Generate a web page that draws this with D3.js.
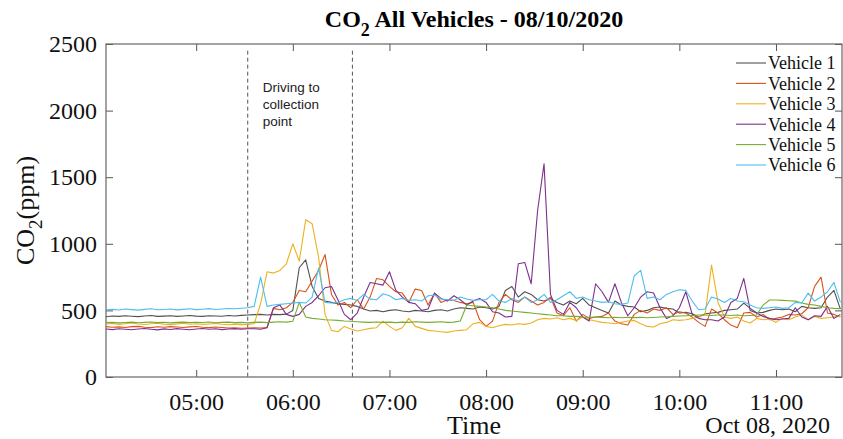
<!DOCTYPE html>
<html>
<head>
<meta charset="utf-8">
<script src="https://cdn.jsdelivr.net/npm/d3@7"></script>
<style>
  body { margin: 0; background: #fff; }
  svg { display: block; }
</style>
</head>
<body>
<script>
const margin = { top: 44, right: 1, bottom: 62, left: 106 };
const width = 843;
const height = 439;
const innerWidth = width - margin.left - margin.right;
const innerHeight = height - margin.top - margin.bottom;

const serifFont = "'Liberation Serif', 'Times New Roman', serif";
const sansFont = "'Liberation Sans', Arial, sans-serif";

// samples every 4 minutes starting at 04:04
const startTime = "04:04";
const endTime = "11:41";
const stepMinutes = 4;

const hourTicks = ["05:00", "06:00", "07:00", "08:00", "09:00", "10:00", "11:00"];
const yTicks = [0, 500, 1000, 1500, 2000, 2500];
const markerTimes = ["05:32", "06:37"];
const noteLines = ["Driving to", "collection", "point"];
const dateLabel = "Oct 08, 2020";

const vehicleNames = ["Vehicle 1", "Vehicle 2", "Vehicle 3", "Vehicle 4", "Vehicle 5", "Vehicle 6"];
const vehicleColors = ["#505050", "#D95319", "#EDB120", "#7E2F8E", "#77AC30", "#4DBEEE"];

const vehicle1 = [452,458,455,460,456,453,458,462,455,457,460,455,458,462,457,455,460,458,456,462,458,463,465,
  468,470,465,470,468,472,500,820,880,680,590,570,560,550,545,540,530,
  510,495,500,490,500,505,495,490,500,495,490,500,505,495,510,520,515,510,525,520,
  510,530,650,680,600,640,620,580,570,590,560,540,570,550,
  590,540,520,500,480,570,540,530,525,490,500,520,525,515,510,480,485,475,450,475,480,485,500,505,510,555,515,480,485,500,510,505,510,490,530,520,515,520,600,650,510];

const vehicle2 = [378,374,376,372,378,380,374,371,377,373,378,375,372,376,379,374,371,375,372,368,370,366,368,
  370,368,372,515,505,520,560,650,640,720,800,920,620,540,560,
  520,580,510,600,740,730,680,640,630,560,660,650,540,630,560,580,575,560,550,560,430,380,
  420,560,620,580,560,600,570,540,560,600,480,460,520,420,
  470,440,450,455,480,420,400,390,470,500,480,510,500,520,470,490,480,450,410,380,510,480,430,390,370,480,485,450,470,430,440,450,470,465,475,520,680,750,480,470,450];

const vehicle3 = [398,402,395,400,405,398,394,400,404,397,393,399,403,396,400,395,398,402,396,392,397,393,395,
  400,550,790,780,800,850,1000,870,1180,1150,900,470,350,340,380,
  360,345,355,365,370,420,380,350,370,440,380,365,350,345,340,335,345,350,355,400,410,380,
  370,385,395,390,400,395,405,430,440,435,445,430,440,425,
  450,430,420,410,405,400,410,420,425,400,380,375,400,410,430,425,430,440,450,470,840,560,450,440,450,420,405,440,430,435,410,440,430,450,465,430,455,440,445,450,455];

const vehicle4 = [360,356,362,358,355,360,364,358,354,361,357,363,359,355,360,364,358,362,356,360,363,359,362,
  362,358,370,520,540,470,455,470,530,560,610,670,680,580,470,
  430,480,600,710,700,690,790,650,600,560,550,500,510,630,590,570,610,580,540,570,590,560,
  490,480,450,455,850,860,700,1250,1600,620,500,470,560,520,
  450,420,700,640,560,700,560,460,520,600,640,630,520,440,460,520,640,470,440,430,430,420,450,560,590,740,500,480,455,440,430,435,440,520,450,430,460,455,530,440,470];

const vehicle5 = [408,410,406,409,412,407,410,413,408,411,406,410,412,408,411,409,413,407,410,412,408,410,406,
  410,412,408,412,415,412,418,560,450,440,435,430,428,425,420,
  418,415,412,410,413,410,412,408,412,410,415,412,410,412,415,410,412,420,540,535,530,525,
  520,510,500,495,490,485,480,475,470,465,460,460,455,455,
  450,448,450,448,445,448,445,448,446,448,445,447,450,452,455,458,460,462,465,465,462,465,465,462,465,460,462,465,540,578,578,575,572,570,555,545,540,530,520,515,512];

const vehicle6 = [505,508,503,510,506,502,508,512,505,507,510,504,508,512,506,509,513,507,510,514,512,516,520,
  530,750,530,540,545,550,555,560,555,600,820,560,555,560,580,
  590,575,620,585,580,625,610,580,590,575,580,570,610,615,585,580,575,600,585,575,580,580,
  620,570,560,590,570,600,560,580,620,560,580,610,640,590,
  600,580,570,560,565,550,545,555,760,800,590,600,580,620,640,655,650,570,505,510,600,585,560,590,570,565,540,520,515,520,525,515,520,560,555,630,570,600,640,710,560];

const vehicleValues = [vehicle1, vehicle2, vehicle3, vehicle4, vehicle5, vehicle6];

const parseTime = d3.timeParse("%H:%M");
const t0 = parseTime(startTime);

const xScale = d3.scaleTime()
  .domain([t0, parseTime(endTime)])
  .range([0, innerWidth]);
const yScale = d3.scaleLinear()
  .domain([0, 2500])
  .range([innerHeight, 0]);

const svg = d3.select("body").append("svg")
  .attr("width", width)
  .attr("height", height);

svg.append("defs").append("clipPath").attr("id", "plotClip")
  .append("rect").attr("width", innerWidth).attr("height", innerHeight);

const g = svg.append("g").attr("transform", `translate(${margin.left},${margin.top})`);

// axes, ticks inside
const tickValuesX = hourTicks.map(parseTime);
const axisColor = "#555";

const xAxis = g.append("g").attr("transform", `translate(0,${innerHeight})`)
  .call(d3.axisBottom(xScale).tickValues(tickValuesX).tickFormat(d3.timeFormat("%H:%M"))
    .tickSize(-7).tickPadding(16));
const xAxisTop = g.append("g")
  .call(d3.axisTop(xScale).tickValues(tickValuesX).tickFormat("").tickSize(-7));
const yAxis = g.append("g")
  .call(d3.axisLeft(yScale).tickValues(yTicks).tickFormat(d3.format("d")).tickSize(-7).tickPadding(9));
const yAxisRight = g.append("g").attr("transform", `translate(${innerWidth},0)`)
  .call(d3.axisRight(yScale).tickValues(yTicks).tickFormat("").tickSize(-7));

[xAxis, xAxisTop, yAxis, yAxisRight].forEach(a => {
  a.select(".domain").remove();
  a.selectAll(".tick line").attr("stroke", axisColor);
  a.selectAll("text").attr("font-family", serifFont).attr("font-size", 24).attr("fill", "#111");
});

g.append("rect")
  .attr("width", innerWidth).attr("height", innerHeight)
  .attr("fill", "none").attr("stroke", "#666").attr("stroke-width", 1.2);

// driving window markers
g.selectAll(".marker").data(markerTimes).join("line")
  .attr("class", "marker")
  .attr("x1", d => xScale(parseTime(d))).attr("x2", d => xScale(parseTime(d)))
  .attr("y1", yScale(2450)).attr("y2", innerHeight)
  .attr("stroke", "#555").attr("stroke-width", 1).attr("stroke-dasharray", "4,3");

g.append("text")
  .attr("font-family", sansFont).attr("font-size", 13.5).attr("fill", "#222")
  .selectAll("tspan").data(noteLines).join("tspan")
  .attr("x", xScale(parseTime(markerTimes[0])) + 15)
  .attr("y", (d, i) => 48 + i * 17)
  .text(d => d);

// series
const line = d3.line()
  .x((d, i) => xScale(d3.timeMinute.offset(t0, i * stepMinutes)))
  .y(d => yScale(d));

g.append("g").attr("clip-path", "url(#plotClip)")
  .selectAll("path").data(vehicleValues).join("path")
  .attr("d", line)
  .attr("fill", "none")
  .attr("stroke", (d, i) => vehicleColors[i])
  .attr("stroke-width", 1.1)
  .attr("stroke-linejoin", "round");

// legend
const legend = g.append("g").attr("transform", `translate(${630},${19})`);
const rows = legend.selectAll("g").data(vehicleNames).join("g")
  .attr("transform", (d, i) => `translate(0,${i * 20.4})`);
rows.append("line").attr("x1", 0).attr("x2", 30)
  .attr("stroke", (d, i) => vehicleColors[i]).attr("stroke-width", 1.1);
rows.append("text").attr("x", 32).attr("dy", "0.35em")
  .attr("font-family", serifFont).attr("font-size", 18).attr("fill", "#111")
  .text(d => d);

// title
const title = svg.append("text")
  .attr("x", margin.left + innerWidth / 2).attr("y", 27)
  .attr("text-anchor", "middle")
  .attr("font-family", serifFont).attr("font-size", 24).attr("font-weight", "bold");
title.append("tspan").text("CO");
title.append("tspan").attr("font-size", 18).attr("dy", 9).text("2");
title.append("tspan").attr("dy", -9).text(" All Vehicles - 08/10/2020");

// axis labels
const yLabel = svg.append("text")
  .attr("transform", `translate(34,${margin.top + innerHeight / 2}) rotate(-90)`)
  .attr("text-anchor", "middle")
  .attr("font-family", serifFont).attr("font-size", 26).attr("fill", "#111");
yLabel.append("tspan").text("CO");
yLabel.append("tspan").attr("font-size", 19).attr("dy", 8).text("2");
yLabel.append("tspan").attr("dy", -8).text("(ppm)");

svg.append("text")
  .attr("x", margin.left + innerWidth / 2).attr("y", 434)
  .attr("text-anchor", "middle")
  .attr("font-family", serifFont).attr("font-size", 26).attr("fill", "#111")
  .text("Time");

svg.append("text")
  .attr("x", 830).attr("y", 433)
  .attr("text-anchor", "end")
  .attr("font-family", serifFont).attr("font-size", 24).attr("fill", "#111")
  .text(dateLabel);
</script>
</body>
</html>
